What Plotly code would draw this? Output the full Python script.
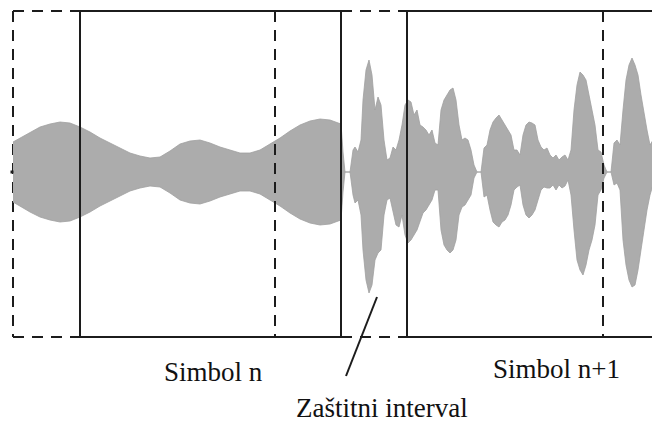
import plotly.graph_objects as go

# ---- data (time in samples, amplitude in arbitrary units) ----
# Symbol n (smooth AM envelope, symmetric)
sym_n_t = [13, 20, 30, 40, 50, 60, 70, 80, 90, 100, 110, 120, 130, 140, 150, 160, 170, 180,
           190, 200, 210, 220, 230, 240, 250, 260, 270, 280, 290, 300, 310, 320, 330, 341, 343, 345]
sym_n_amp = [30, 34, 40, 45, 48, 50, 49, 45, 40, 34, 29, 24, 19, 16, 14, 15, 21, 28,
             31, 32, 29, 25, 22, 19, 19, 22, 28, 34, 41, 47, 51, 53, 52, 48, 20, 0]

# Symbol n+1 (bursty envelope)
sym_n1_t = [350, 353, 355, 358, 361, 363, 366, 369, 372, 375, 378, 381, 384, 387, 390, 393, 396, 399,
            402, 405, 408, 411, 414, 417, 420, 423, 426, 429, 432, 435, 438, 441, 444, 447, 450,
            453, 456, 459, 462, 465, 468, 471, 474, 477, 481, 484, 487, 490, 493, 496, 499, 502,
            505, 508, 511, 514, 517, 520, 523, 526, 529, 532, 535, 538, 541, 544, 547, 550, 553,
            556, 559, 562, 565, 568, 571, 574, 577, 580, 583, 586, 589, 592, 595, 598, 601, 604,
            607, 611, 614, 617, 620, 623, 626, 629, 632, 635, 638, 641, 644, 647, 650, 653, 656, 660]
sym_n1_upper = [0, 22, 25, 20, 32, 72, 102, 112, 97, 62, 75, 67, 32, 12, 14, 25, 22, 32,
                47, 67, 72, 70, 57, 62, 47, 45, 42, 37, 42, 29, 27, 62, 72, 77, 82,
                84, 72, 47, 32, 34, 32, 22, 7, 0, 0, 24, 27, 42, 50, 54, 57, 52,
                47, 42, 37, 22, 22, 17, 37, 47, 50, 49, 47, 32, 25, 22, 24, 17, 14,
                17, 12, 15, 17, 12, 22, 62, 87, 100, 97, 92, 77, 62, 47, 22, 20, 7,
                0, 0, 29, 32, 27, 62, 92, 107, 114, 107, 97, 77, 57, 42, 27, 32, 27, 24]
sym_n1_lower = [0, -23, -31, -28, -43, -78, -108, -121, -113, -88, -81, -78, -43, -28, -26, -38, -53, -55,
                -43, -63, -71, -68, -63, -58, -50, -41, -38, -33, -28, -18, -18, -58, -73, -78, -81,
                -78, -68, -43, -35, -33, -28, -23, -6, 0, 0, -25, -23, -38, -50, -53, -55, -50,
                -48, -43, -33, -18, -15, -13, -33, -43, -46, -43, -38, -28, -18, -15, -16, -16, -13,
                -18, -13, -16, -14, -8, -23, -58, -88, -98, -103, -93, -78, -68, -53, -23, -18, -6,
                0, 0, -13, -11, -18, -68, -93, -108, -115, -113, -98, -83, -58, -38, -23, -13, -11, -11]

# Frame structure (time positions / levels)
guard_start = [13, 341]        # start of guard interval (cyclic prefix)
symbol_start = [80, 407]       # start of useful symbol
copy_start = [275, 603]        # start of part copied into the guard interval
axis_end = 660
frame_top = 161
frame_bottom = -165

labels = ["Simbol n", "Simbol n+1", "Zaštitni interval"]
label_t = [213, 556, 382]
label_y = [-200, -197, -236]
pointer_t = [377, 346]
pointer_y = [-125, -204]

INK = "#1c1c1c"
SIG = "#acacac"

fig = go.Figure()

def seg(x, y, dash="solid", width=2, color=INK):
    fig.add_trace(go.Scatter(x=x, y=y, mode="lines", hoverinfo="skip", showlegend=False,
                             line=dict(color=color, width=width, dash=dash)))

# left dashed edge (behind signal)
seg([guard_start[0], guard_start[0]], [frame_top, frame_bottom], dash="11px,8px")

# signal band: symbol n + symbol n+1
sig_t = sym_n_t + sym_n1_t
sig_up = sym_n_amp + sym_n1_upper
sig_lo = [-a for a in sym_n_amp] + sym_n1_lower
fig.add_trace(go.Scatter(x=sig_t + sig_t[::-1], y=sig_up + sig_lo[::-1], mode="lines",
                         fill="toself", fillcolor=SIG, line=dict(color="#a0a0a0", width=0.8),
                         hoverinfo="skip", showlegend=False))
# small tick at zero level
fig.add_trace(go.Scatter(x=[guard_start[0] - 1], y=[0], mode="markers", showlegend=False,
                         marker=dict(symbol="square", size=3, color=INK), hoverinfo="skip"))

# dashed guard-interval top/bottom
for g, s in zip(guard_start, symbol_start):
    seg([g, s], [frame_top, frame_top], dash="11px,8px")
    seg([g, s], [frame_bottom, frame_bottom], dash="11px,8px")

# solid symbol frames
symbol_end = [guard_start[1], axis_end]
for s, e in zip(symbol_start, symbol_end):
    seg([s, e], [frame_top, frame_top])
    seg([s, e], [frame_bottom, frame_bottom])
    seg([s, s], [frame_top, frame_bottom])
seg([guard_start[1], guard_start[1]], [frame_top, frame_bottom])

# dashed copy markers
for c in copy_start:
    seg([c, c], [frame_top, frame_bottom], dash="11px,8px")

# pointer to guard interval
seg(pointer_t, pointer_y, width=2)

for txt, t, y in zip(labels, label_t, label_y):
    fig.add_annotation(x=t, y=y, text=txt, showarrow=False, xanchor="center", yanchor="middle",
                       font=dict(family="Liberation Serif", size=27, color="#111111"))

# page body has an 8px margin: figure covers pixels 8..660 x 8..422
fig.update_layout(width=652, height=414, margin=dict(l=0, r=0, t=0, b=0),
                  paper_bgcolor="white", plot_bgcolor="white", showlegend=False,
                  xaxis=dict(range=[8, 660], visible=False, fixedrange=True),
                  yaxis=dict(range=[-250, 164], visible=False, fixedrange=True))

fig.write_html("out.html")
